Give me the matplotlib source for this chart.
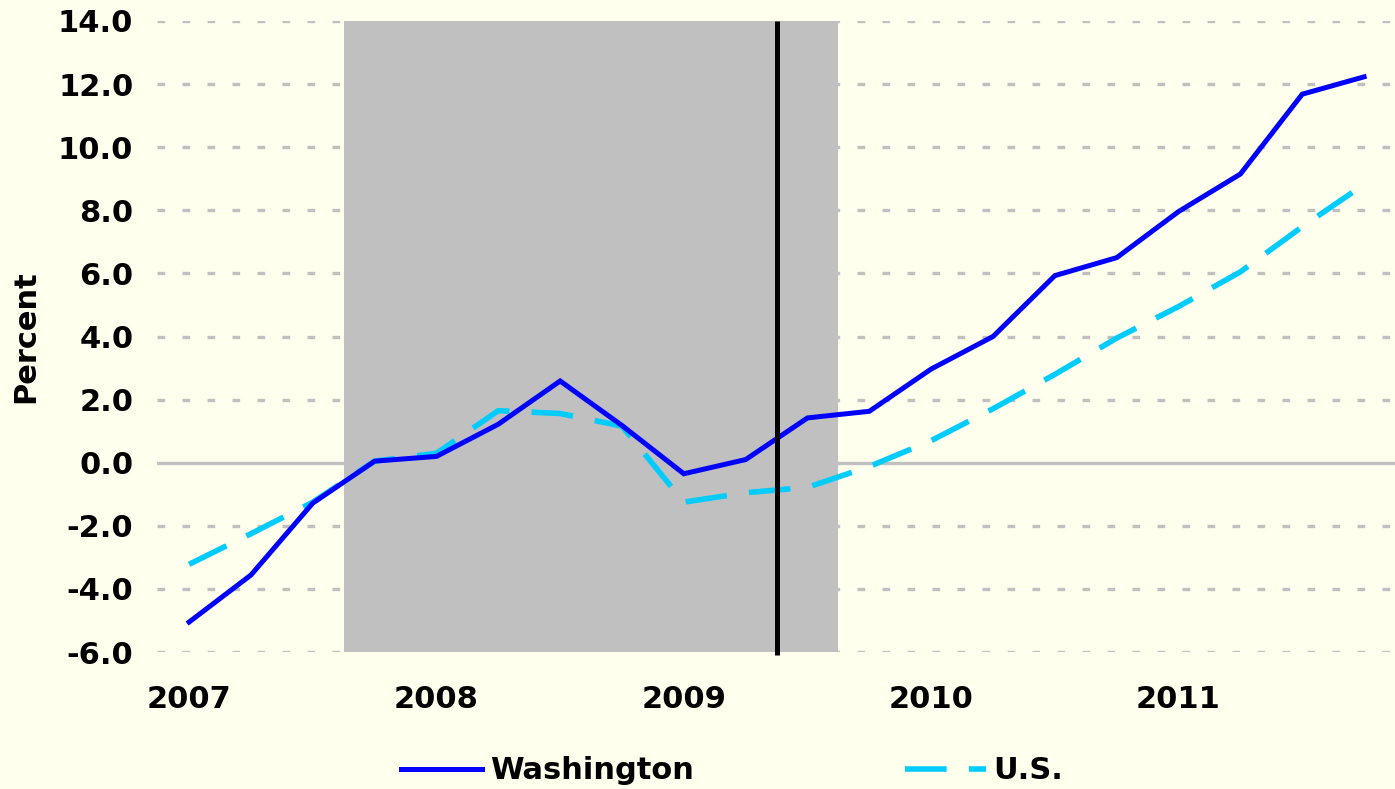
import numpy as np
import matplotlib
matplotlib.use("Agg")
import matplotlib.pyplot as plt

plt.rcParams.update({'font.size': 22, 'font.family': 'DejaVu Sans', 'font.weight': 'bold'})

# quarterly data, 2007 Q1 .. 2011 Q4
quarters = ["2007", "", "", "", "2008", "", "", "", "2009", "", "", "",
            "2010", "", "", "", "2011", "", "", ""]
washington = [-5.05, -3.56, -1.28, 0.05, 0.2, 1.22, 2.59, 1.18, -0.35, 0.1,
              1.42, 1.63, 2.97, 4.0, 5.93, 6.5, 7.96, 9.15, 11.68, 12.23]
us = [-3.22, -2.25, -1.25, 0.05, 0.3, 1.65, 1.56, 1.16, -1.25, -0.95,
      -0.78, -0.12, 0.7, 1.71, 2.8, 3.95, 4.95, 6.05, 7.48, 8.82]
recession = (2.5, 10.5)   # shaded span, in quarter positions
marker_q = 9.5            # vertical line
yticks = [-6, -4, -2, 0, 2, 4, 6, 8, 10, 12, 14]

bg = '#FFFFEE'
fig = plt.figure(figsize=(13.95, 7.89), dpi=100, facecolor=bg)
ax = fig.add_axes([0.1125, 0.1736, 0.8875, 0.7998])
ax.set_facecolor(bg)

x = np.arange(len(quarters))

# grid lines
for yv in yticks:
    if yv == 0:
        ax.axhline(yv, color='#C0C0C0', lw=2.4, zorder=1)
    else:
        ax.axhline(yv, color='#C0C0C0', lw=2.4, dashes=(2.3, 5.2), zorder=1,
                   dash_capstyle='butt')

ax.axvspan(recession[0], recession[1], color='#C0C0C0', lw=0, zorder=2)

ax.plot(x, washington, color='#0000FF', lw=3.6, label='Washington', zorder=4,
        solid_joinstyle='miter')
ax.plot(x, us, color='#00CCFF', lw=4, dashes=(7.5, 4), label='U.S.', zorder=3)
ax.plot([marker_q, marker_q], [-6.1, 14], color='black', lw=3.6, zorder=5,
        clip_on=False, solid_capstyle='butt')

ax.set_xlim(-0.52, 19.5)
ax.set_ylim(-6, 14)
ax.set_yticks(yticks)
ax.set_yticklabels(['%.1f' % v for v in yticks])
ax.set_xticks(x)
ax.set_xticklabels(quarters)
ax.tick_params(axis='both', length=0)
ax.tick_params(axis='y', pad=17)
ax.tick_params(axis='x', pad=24)
for s in ax.spines.values():
    s.set_visible(False)

ax.set_ylabel('Percent', fontweight='bold')
ax.yaxis.set_label_coords(-0.0945, 0.5)

fig.legend(loc='center', bbox_to_anchor=(0.525, 0.023), ncol=2, frameon=False,
           handlelength=2.65, handletextpad=0.25, columnspacing=6.9)

plt.savefig("out.png", facecolor=bg)
